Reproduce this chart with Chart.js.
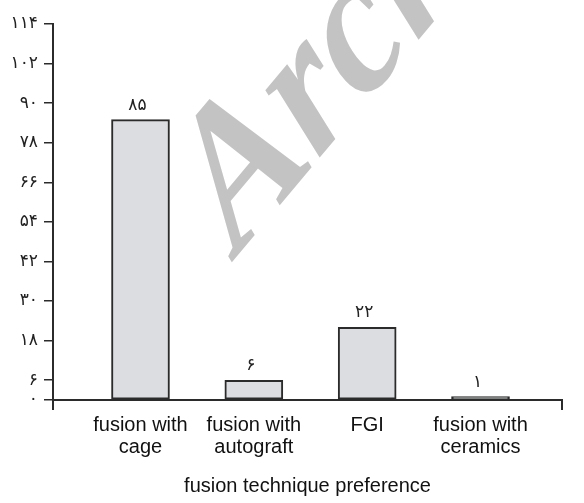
<!DOCTYPE html>
<html>
<head>
<meta charset="utf-8">
<script src="https://cdn.jsdelivr.net/npm/chart.js@4/dist/chart.umd.min.js"></script>
<style>
  body { margin: 0; background: #fff; }
  #wrap { width: 584px; height: 503px; }
</style>
</head>
<body>
<div id="wrap"><canvas id="FusionChart"></canvas></div>
<script>
// chart data
const categories = [['fusion with', 'cage'], ['fusion with', 'autograft'], ['FGI'], ['fusion with', 'ceramics']];
const counts = [85, 6, 22, 1];
const yTickValues = [0, 6, 18, 30, 42, 54, 66, 78, 90, 102, 114];
const xTitle = 'fusion technique preference';
const watermark = 'Archive';

// western digits -> persian digits
const toPersian = n => String(n).replace(/\d/g, d => '۰۱۲۳۴۵۶۷۸۹'[d]);

const axisColor = '#2b2b2b';

// value labels above each bar
const valueLabels = {
  id: 'valueLabels',
  afterDatasetsDraw(chart) {
    const ctx = chart.ctx;
    ctx.save();
    ctx.font = '17px "DejaVu Sans", sans-serif';
    ctx.fillStyle = '#222';
    ctx.textAlign = 'center';
    ctx.textBaseline = 'alphabetic';
    chart.getDatasetMeta(0).data.forEach((bar, i) => {
      ctx.fillText(toPersian(counts[i]), bar.x - 3, bar.y - 10);
    });
    ctx.restore();
  }
};

// grey diagonal watermark
const watermarkText = {
  id: 'watermarkText',
  beforeDatasetsDraw(chart) {
    const ctx = chart.ctx;
    ctx.save();
    ctx.translate(238, 255);
    ctx.rotate(-50 * Math.PI / 180);
    ctx.transform(1, 0, -0.15, 1, 0, 0); // a bit more slant
    ctx.font = 'italic bold 185px "Liberation Serif", serif';
    ctx.fillStyle = '#c3c3c3';
    ctx.textBaseline = 'alphabetic';
    ctx.fillText(watermark, 0, 0);
    ctx.restore();
  }
};

const ctx = document.getElementById('FusionChart').getContext('2d');
const xMin = -0.772, xMax = 3.719;

new Chart(ctx, {
  type: 'bar',
  data: {
    datasets: [{
      data: counts.map((v, i) => ({ x: i, y: v })),
      backgroundColor: '#dcdde0',
      borderColor: axisColor,
      borderWidth: 2,
      borderSkipped: false,
      barThickness: 58
    }]
  },
  options: {
    responsive: true,
    maintainAspectRatio: false,
    animation: false,
    layout: { padding: { top: 24, right: 22, left: 0, bottom: 0 } },
    plugins: { legend: { display: false }, tooltip: { enabled: false } },
    scales: {
      x: {
        type: 'linear',
        offset: false,
        min: xMin,
        max: xMax,
        afterBuildTicks: scale => {
          scale.ticks = [{ value: xMin }].concat(categories.map((c, i) => ({ value: i })), [{ value: xMax }]);
        },
        afterFit: scale => { scale.height = 103; },
        border: { display: true, color: axisColor, width: 2 },
        grid: {
          offset: false,
          drawOnChartArea: false,
          drawTicks: true,
          tickLength: 10,
          lineWidth: 2,
          color: c => (c.index === 0 || c.index === categories.length + 1) ? axisColor : 'rgba(0,0,0,0)'
        },
        ticks: {
          autoSkip: false,
          maxRotation: 0,
          padding: 4,
          color: '#111',
          font: { family: '"Liberation Sans", Arial, sans-serif', size: 20, lineHeight: 1.1 },
          callback: v => (Number.isInteger(v) && categories[v]) ? categories[v] : ''
        },
        title: {
          display: true,
          text: xTitle,
          color: '#111',
          font: { family: '"Liberation Sans", Arial, sans-serif', size: 20, lineHeight: 1.2 },
          padding: { top: 0, bottom: 5 }
        }
      },
      y: {
        min: 0,
        max: 114,
        afterBuildTicks: scale => {
          scale.ticks = yTickValues.map(v => ({ value: v }));
        },
        afterFit: scale => { scale.width = 53; },
        border: { display: true, color: axisColor, width: 2 },
        grid: {
          drawOnChartArea: false,
          drawTicks: true,
          tickLength: 9,
          lineWidth: 1.5,
          color: axisColor
        },
        ticks: {
          padding: 6,
          color: '#222',
          font: { family: '"DejaVu Sans", sans-serif', size: 17 },
          callback: v => toPersian(v)
        }
      }
    }
  },
  plugins: [watermarkText, valueLabels]
});
</script>
</body>
</html>
